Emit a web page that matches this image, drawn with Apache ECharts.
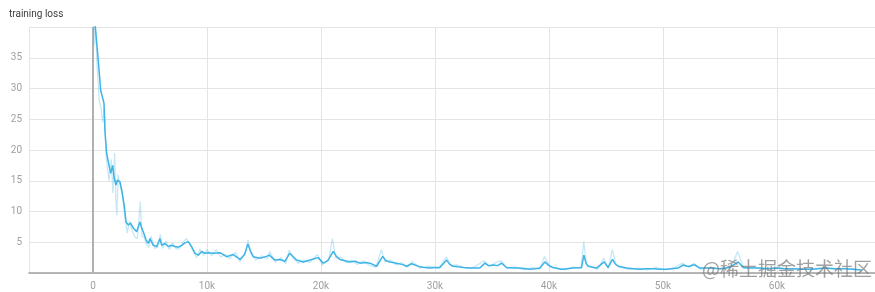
<!DOCTYPE html>
<html>
<head>
<meta charset="utf-8">
<script src="https://cdn.jsdelivr.net/npm/echarts@6/dist/echarts.min.js"></script>
<style>
html,body{margin:0;padding:0;background:#fff;}
#chart{width:875px;height:292px;}
</style>
</head>
<body>
<div id="chart"></div>
<script>
const title = 'training loss';
const watermark = '@稀土掘金技术社区';
const yTickLabels = ['5', '10', '15', '20', '25', '30', '35'];

// smoothed curve
const smoothSteps = [0,250,410,675,965,1050,1200,1550,1730,1840,2020,2130,2370,2520,2750,2900,3100,3300,3530,3830,3970,4120,4270,4410,4650,4850,5000,5290,5590,5880,6020,6310,6600,6900,7190,7480,7780,8070,8360,8650,8950,9240,9530,9820,10110,10550,11140,11720,12300,12890,13300,13580,13800,14060,14650,15230,15460,15960,16400,16840,17250,17860,18440,19030,19760,20200,20600,21080,21350,21660,22100,22540,23000,23420,23900,24290,24880,25410,25700,26050,26640,27100,27500,27950,28680,29100,29550,30000,30430,31020,31300,31600,32000,32480,33200,33940,34380,34700,35110,35500,35840,36280,36900,37450,38330,38800,39200,39640,40000,40370,41100,41600,42120,42860,43060,43250,43440,44170,44840,45190,45570,45800,46070,46800,47400,47970,48500,49140,49700,50310,50800,51330,51770,52100,52360,52600,52800,53230,54110,54990,55870,56600,57040,57700,58500,59200,59960,60700,61420,62100,62880,63600,64350,65100,65800,66600,67420];
const smoothLoss = [44,39,35.7,29.7,27.6,23,19.4,16.2,17.5,15.6,14.3,15.1,14.8,13.5,10.8,8.3,7.8,8.1,7.3,6.7,6.4,8.3,7.3,6.7,5.4,4.8,5.6,4.5,4.3,5.6,4.5,4.8,4.3,4.5,4.3,4.2,4.5,4.9,5.1,4.3,3.2,2.9,3.5,3.2,3.3,3.2,3.3,2.65,3.0,2.2,3.0,4.7,3.6,2.65,2.4,2.7,2.9,2.1,2.2,1.9,3.2,2.1,1.8,2.1,2.5,1.6,2.0,3.5,2.7,2.2,2.0,1.8,1.9,1.6,1.7,1.6,1.1,2.7,2.0,1.8,1.6,1.4,1.1,1.5,1.0,0.9,0.8,0.9,0.9,2.1,1.4,1.1,1.0,0.9,0.8,0.8,1.6,1.2,1.3,1.2,1.6,0.9,0.8,0.8,0.6,0.7,0.8,1.8,1.2,0.9,0.6,0.7,0.8,0.9,2.9,1.6,1.1,0.8,1.8,0.9,2.2,1.5,1.1,0.8,0.7,0.6,0.7,0.7,0.6,0.6,0.7,0.8,1.3,1.1,1.1,1.3,1.3,0.8,0.8,0.7,0.9,1.8,0.9,0.8,0.8,0.7,0.8,0.7,0.7,0.6,0.6,0.7,0.8,0.7,0.7,0.6,0.5];

// raw (faint) curve
const rawSteps = [0,100,200,350,550,700,850,1000,1150,1400,1600,1750,1900,2000,2100,2200,2400,2600,2800,3000,3200,3400,3700,3900,4150,4300,4500,4700,4900,5100,5400,5700,5900,6100,6400,6700,7000,7300,7600,7900,8200,8500,8800,9100,9400,9700,10000,10400,10800,11200,11600,12000,12500,12900,13400,13600,13900,14300,14800,15300,15500,16000,16500,16900,17200,17600,18000,18500,19000,19700,20100,20700,21000,21300,21700,22200,22700,23200,23700,24200,24800,25300,25600,26100,26600,27100,27600,28000,28700,29500,30300,31000,31400,32000,32800,33500,34300,34800,35200,35800,36300,37000,37800,38600,39200,39600,40100,40700,41400,42100,42800,43050,43300,43800,44300,44800,45200,45550,45900,46300,47000,47800,48600,49400,50200,51000,51700,52300,52700,53300,54200,55100,56000,56550,57100,58000,59000,60000,61000,62000,63000,64000,65000,66000,67400];
const rawLoss = [45,37,41,34,28,27,24.5,27,19,15,18.5,13,19.5,12,9.4,16,14,12.5,9,6.5,8.5,7,5.8,5.6,11.6,6,5.8,4.6,4.2,6,4,4.2,6.3,4,5.2,3.8,4.9,3.9,4.0,5.0,5.6,4.6,3.5,2.5,3.9,2.9,3.8,2.8,3.8,2.6,3.0,2.3,3.4,1.8,3.5,5.4,3.0,2.1,2.8,2.3,3.5,1.8,2.5,1.5,3.7,2.3,1.6,2.1,1.7,3.0,1.3,2.3,5.6,2.4,2.6,1.7,2.1,1.4,2.0,1.3,0.9,3.8,1.8,2.1,1.3,1.7,0.9,1.9,0.8,1.1,0.7,2.6,1.2,1.3,0.7,1.0,2.0,1.0,1.6,2.0,0.7,1.0,0.5,0.9,0.6,2.7,1.0,0.7,0.5,1.0,0.7,5.1,1.3,0.9,0.6,2.4,0.7,3.8,1.3,0.9,0.6,0.8,0.5,0.9,0.5,0.9,1.6,0.9,1.6,0.6,0.9,0.6,1.1,3.5,0.7,0.9,0.6,0.9,0.6,0.8,0.5,0.9,0.6,0.8,0.5];

const smoothData = smoothSteps.map((s, i) => [s, smoothLoss[i]]);
const rawData = rawSteps.map((s, i) => [s, rawLoss[i]]);

const chart = echarts.init(document.getElementById('chart'), null, {renderer: 'canvas'});
const FONT = 'Roboto, "Noto Sans", sans-serif';
chart.setOption({
  animation: false,
  backgroundColor: '#fff',
  title: {
    text: title, left: 9, top: 9, padding: 0,
    textStyle: {fontSize: 10, fontWeight: 'normal', color: '#3c3c3c', fontFamily: FONT}
  },
  grid: {left: 29, right: 0, top: 27, bottom: 19, containLabel: false},
  xAxis: {
    type: 'value',
    min: -5614, max: 68600, splitNumber: 7,
    axisLine: {show: true, onZero: false, lineStyle: {color: '#a0a0a0', width: 1.5}},
    axisTick: {show: false},
    axisLabel: {
      show: true, showMinLabel: false, showMaxLabel: false,
      color: '#a0a0a0', fontSize: 10, fontFamily: FONT, margin: 8,
      formatter: v => v === 0 ? '0' : (v / 1000) + 'k'
    },
    splitLine: {show: true, lineStyle: {color: '#e4e4e4', width: 1}}
  },
  yAxis: {
    type: 'value', min: 0, max: 40, interval: 5,
    axisLine: {show: true, lineStyle: {color: '#e4e4e4', width: 1}},
    axisTick: {show: false},
    axisLabel: {
      showMinLabel: false, showMaxLabel: false,
      color: '#a0a0a0', fontSize: 10, fontFamily: FONT, margin: 7,
      formatter: v => yTickLabels.indexOf(String(v)) >= 0 ? String(v) : ''
    },
    splitLine: {show: true, lineStyle: {color: '#e4e4e4', width: 1}}
  },
  series: [
    {
      type: 'line', data: rawData, showSymbol: false, clip: true,
      lineStyle: {color: 'rgba(64,180,230,0.3)', width: 1.3},
      z: 2, silent: true
    },
    {
      type: 'line', data: smoothData, showSymbol: false, clip: true,
      lineStyle: {color: '#3db3e6', width: 1.5},
      z: 3, silent: true,
      markLine: {
        silent: true, symbol: 'none', label: {show: false},
        lineStyle: {color: '#b0b0b0', width: 2, type: 'solid'},
        data: [{xAxis: 0}], z: 1
      }
    }
  ],
  graphic: [{
    type: 'text', left: 702, top: 259, z: 100,
    style: {
      text: watermark, fontSize: 19, fontFamily: '"Noto Sans CJK SC", sans-serif',
      fill: 'rgba(120,120,120,0.7)'
    }
  }]
});
</script>
</body>
</html>
